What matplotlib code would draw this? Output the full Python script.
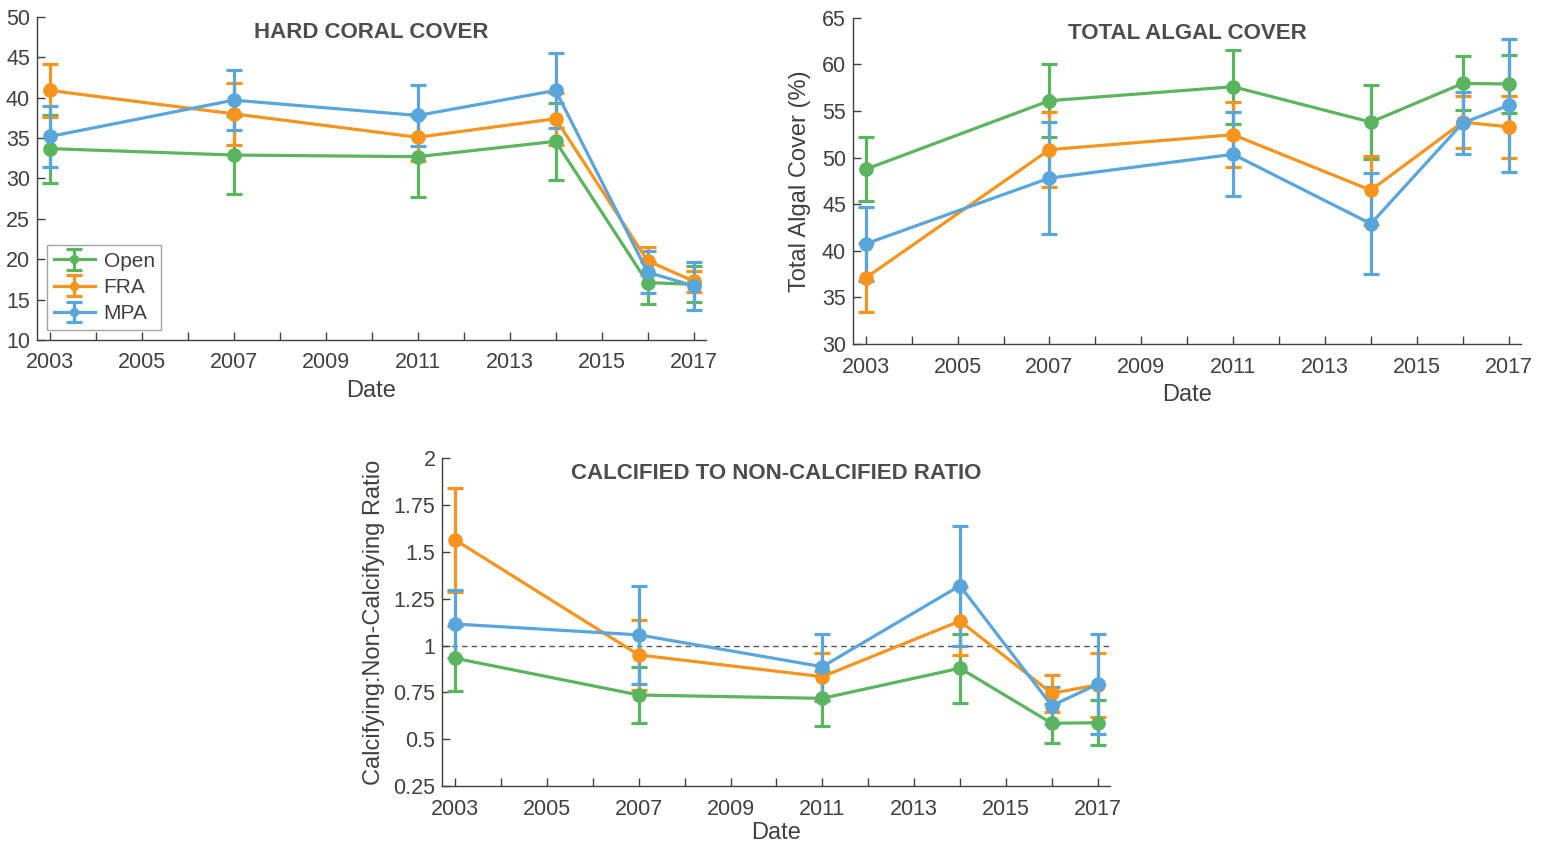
import matplotlib
matplotlib.use("Agg")
import matplotlib.pyplot as plt

plt.rcParams['font.family'] = ['Liberation Sans', 'DejaVu Sans']

years = [2003, 2007, 2011, 2014, 2016, 2017]
groups = ["Open", "FRA", "MPA"]
colors = ["#5BB45E", "#F7941D", "#58A6DC"]

# Hard coral cover (%)
coral_open = [33.7, 32.9, 32.7, 34.6, 17.1, 16.9]
coral_open_err = [4.2, 4.8, 5.0, 4.8, 2.6, 2.2]
coral_fra = [40.9, 38.0, 35.1, 37.4, 19.8, 17.3]
coral_fra_err = [3.3, 3.85, 2.9, 3.2, 1.7, 1.3]
coral_mpa = [35.2, 39.7, 37.8, 40.9, 18.4, 16.7]
coral_mpa_err = [3.8, 3.75, 3.8, 4.6, 2.6, 3.0]

# Total algal cover (%)
algae_open = [48.75, 56.1, 57.6, 53.8, 57.95, 57.9]
algae_open_err = [3.45, 3.9, 3.95, 4.0, 2.9, 3.1]
algae_fra = [37.1, 50.85, 52.45, 46.5, 53.8, 53.3]
algae_fra_err = [3.7, 4.05, 3.5, 3.7, 2.8, 3.3]
algae_mpa = [40.75, 47.8, 50.35, 42.9, 53.7, 55.6]
algae_mpa_err = [4.0, 6.05, 4.5, 5.4, 3.3, 7.1]

# Calcifying : non-calcifying ratio
ratio_open = [0.932, 0.736, 0.718, 0.879, 0.585, 0.588]
ratio_open_err = [0.175, 0.147, 0.148, 0.185, 0.104, 0.12]
ratio_fra = [1.564, 0.95, 0.834, 1.131, 0.745, 0.79]
ratio_fra_err = [0.277, 0.187, 0.128, 0.183, 0.1, 0.17]
ratio_mpa = [1.115, 1.057, 0.887, 1.32, 0.679, 0.793]
ratio_mpa_err = [0.18, 0.26, 0.176, 0.32, 0.1, 0.267]

tick_years = list(range(2003, 2018))
tick_labels = [str(y) if (y - 2003) % 2 == 0 else "" for y in tick_years]

TXT = "#404040"

fig = plt.figure(figsize=(15.41, 8.44), dpi=100)


def style_axes(ax, ylim, yticks, yticklabels, title, ylabel=None, ylabelpad=4,
               xlabelpad=5):
    ax.set_xlim(2002.72, 2017.27)
    ax.set_ylim(*ylim)
    ax.set_xticks(tick_years)
    ax.set_xticklabels(tick_labels)
    ax.set_yticks(yticks)
    ax.set_yticklabels(yticklabels)
    ax.tick_params(direction='in', length=6, width=1, colors=TXT,
                   labelsize=15.5)
    ax.tick_params(axis='x', pad=9)
    ax.tick_params(axis='y', pad=5)
    for s in ['top', 'right']:
        ax.spines[s].set_visible(False)
    for s in ['left', 'bottom']:
        ax.spines[s].set_color(TXT)
        ax.spines[s].set_linewidth(1.0)
    ax.set_title(title, fontsize=16, fontweight='bold', color='#4D4D4D',
                 y=0.91)
    ax.set_xlabel("Date", fontsize=17, color=TXT, labelpad=xlabelpad)
    if ylabel:
        ax.set_ylabel(ylabel, fontsize=17, color=TXT, labelpad=ylabelpad)


def draw(ax, series):
    handles = []
    for (vals, errs), name, c in zip(series, groups, colors):
        h = ax.errorbar(years, vals, yerr=errs, color=c, marker='o', ms=9.5,
                        lw=2.3, elinewidth=2.3, capsize=5.5, capthick=2.3,
                        label=name)
        handles.append(h)
    return handles


# Top-left: hard coral
ax1 = fig.add_axes([0.0240, 0.5972, 0.4341, 0.3827])
h = draw(ax1, [(coral_open, coral_open_err), (coral_fra, coral_fra_err),
               (coral_mpa, coral_mpa_err)])
style_axes(ax1, (10, 50), list(range(10, 51, 5)),
           [str(v) for v in range(10, 51, 5)], "HARD CORAL COVER")
leg = ax1.legend(loc='lower left', fontsize=15, frameon=True, fancybox=False,
                 edgecolor='#8C8C8C', borderaxespad=0.5, handlelength=2.0,
                 handletextpad=0.4, borderpad=0.3, labelspacing=0.35,
                 bbox_to_anchor=(0.0, 0.0), markerscale=0.6)
leg.get_frame().set_linewidth(1.0)
for t in leg.get_texts():
    t.set_color(TXT)

# Top-right: total algal cover
ax2 = fig.add_axes([0.5535, 0.5924, 0.4335, 0.3866])
draw(ax2, [(algae_open, algae_open_err), (algae_fra, algae_fra_err),
           (algae_mpa, algae_mpa_err)])
style_axes(ax2, (30, 65), list(range(30, 66, 5)),
           [str(v) for v in range(30, 66, 5)], "TOTAL ALGAL COVER",
           ylabel="Total Algal Cover (%)", ylabelpad=8)

# Bottom: ratio
ax3 = fig.add_axes([0.2871, 0.0687, 0.4332, 0.3883])
ax3.axhline(1.0, color='#555555', lw=1.0, ls=(0, (4, 3)), zorder=1)
draw(ax3, [(ratio_open, ratio_open_err), (ratio_fra, ratio_fra_err),
           (ratio_mpa, ratio_mpa_err)])
rt = [0.25, 0.5, 0.75, 1.0, 1.25, 1.5, 1.75, 2.0]
style_axes(ax3, (0.25, 2.0), rt, ["0.25", "0.5", "0.75", "1", "1.25", "1.5",
                                  "1.75", "2"],
           "CALCIFIED TO NON-CALCIFIED RATIO",
           ylabel="Calcifying:Non-Calcifying Ratio", ylabelpad=6,
           xlabelpad=2)

fig.savefig("out.png", dpi=100)
